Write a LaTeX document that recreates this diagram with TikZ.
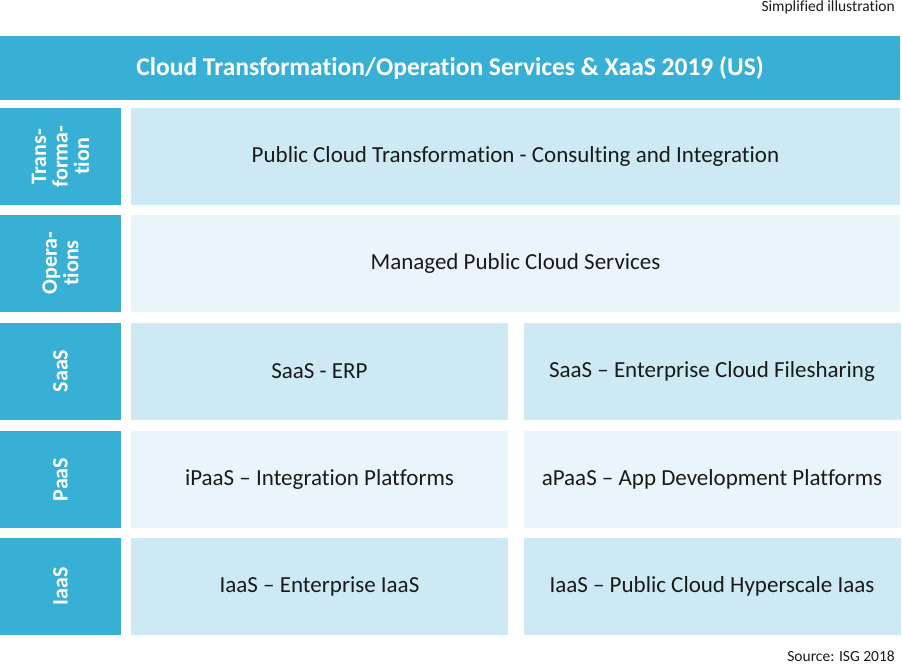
\documentclass[tikz,border=0pt]{standalone}
\usepackage{fontspec}
\setmainfont{Carlito}[Ligatures=NoCommon]
\definecolor{isgblue}{HTML}{38B0D5}
\definecolor{celldark}{HTML}{CDEAF4}
\definecolor{celllight}{HTML}{EAF5FB}
\definecolor{txtgray}{HTML}{1A1A1A}
\tikzset{
  head/.style={fill=isgblue,text=white,font=\bfseries\fontsize{25.5}{28}\selectfont,minimum width=900pt,minimum height=64pt,inner sep=0pt},
  lbl/.style={fill=isgblue,text=white,font=\bfseries\fontsize{22}{21.5}\selectfont,rotate=90,align=center,minimum width=97pt,minimum height=121pt,inner sep=0pt},
  cell/.style={text=txtgray,font=\fontsize{23}{26}\selectfont,minimum height=97pt,inner sep=0pt},
  wide/.style={cell,minimum width=769pt},
  half/.style={cell,minimum width=377pt},
  note/.style={text=txtgray,font=\fontsize{15.5}{17}\selectfont,anchor=east,inner sep=0pt}
}
\begin{document}
\begin{tikzpicture}[x=1pt,y=-1pt]
\useasboundingbox (0,0) rectangle (902,665);
% title band
\node[note] (simp) at (895,7.5) {Simplified illustration};
\node[head] (title) at (450,68) {Cloud Transformation/Operation Services \& XaaS 2019 (US)};
% row labels
\node[lbl] (ltr) at (60.5,156.5) {Trans-\\forma-\\tion};
\node[lbl] (lop) at (60.5,263) {Opera-\\tions};
\node[lbl] (lsaas) at (60.5,371) {SaaS};
\node[lbl] (lpaas) at (60.5,479.5) {PaaS};
\node[lbl] (liaas) at (60.5,586.5) {IaaS};
% cells
\node[wide,fill=celldark] (ctr) at (515.5,156.5) {Public Cloud Transformation - Consulting and Integration};
\node[wide,fill=celllight] (cop) at (515.5,263) {Managed Public Cloud Services};
\node[half,fill=celldark] (erp) at (319.5,371) {SaaS - ERP};
\node[half,fill=celldark] (fshare) at (712,371) {SaaS -- Enterprise Cloud Filesharing};
\node[half,fill=celllight] (ipaas) at (319.5,479.5) {iPaaS -- Integration Platforms};
\node[half,fill=celllight] (apaas) at (712,479.5) {aPaaS -- App Development Platforms};
\node[half,fill=celldark] (eiaas) at (319.5,586.5) {IaaS -- Enterprise IaaS};
\node[half,fill=celldark] (hiaas) at (712,586.5) {IaaS -- Public Cloud Hyperscale Iaas};
% source
\node[note] (src) at (895,656) {Source: ISG 2018};
\end{tikzpicture}
\end{document}
